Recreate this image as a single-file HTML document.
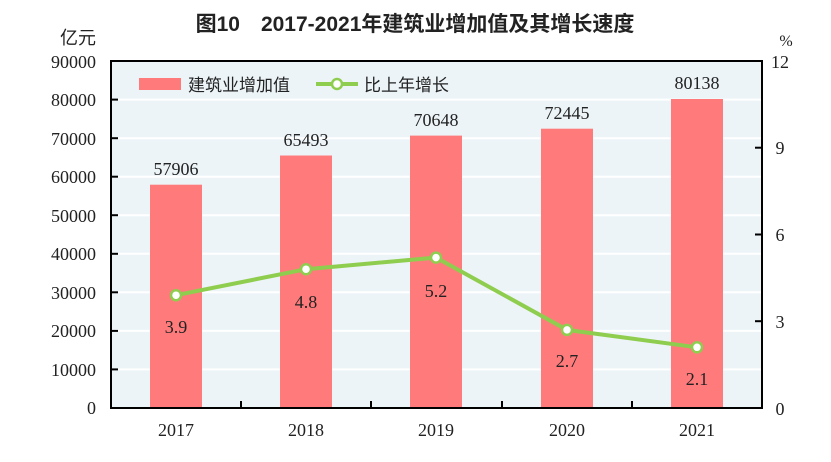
<!DOCTYPE html>
<html><head><meta charset="utf-8"><style>
body{margin:0;background:#fff;}
svg text{font-family:"Liberation Serif","Noto Serif CJK SC",serif;fill:#222;}
.cj{font-family:"Liberation Sans","Noto Sans CJK SC",sans-serif;}
</style></head><body>
<svg width="831" height="457" xmlns="http://www.w3.org/2000/svg">
<rect width="831" height="457" fill="#fff"/>
<text x="415" y="31" text-anchor="middle" font-size="21" class="cj" style="font-family:'Liberation Sans','Noto Sans CJK SC',sans-serif;font-weight:bold">图10　2017-2021年建筑业增加值及其增长速度</text>
<text x="96" y="44" text-anchor="end" font-size="18" style="font-family:'Noto Sans CJK SC',sans-serif">亿元</text>
<text x="786" y="46" text-anchor="middle" font-size="16">%</text>
<rect x="111" y="61" width="651" height="347" fill="#ecf4f8"/>
<g stroke="#fff" stroke-width="2">
<line x1="111" x2="762" y1="99.6" y2="99.6"/><line x1="111" x2="762" y1="138.2" y2="138.2"/><line x1="111" x2="762" y1="176.7" y2="176.7"/><line x1="111" x2="762" y1="215.2" y2="215.2"/><line x1="111" x2="762" y1="253.8" y2="253.8"/><line x1="111" x2="762" y1="292.3" y2="292.3"/><line x1="111" x2="762" y1="330.9" y2="330.9"/><line x1="111" x2="762" y1="369.4" y2="369.4"/>
</g>
<g fill="#ff7b7b">
<rect x="150" y="184.7" width="52" height="223.3"/>
<rect x="280" y="155.5" width="52" height="252.5"/>
<rect x="410" y="135.6" width="52" height="272.4"/>
<rect x="541" y="128.7" width="52" height="279.3"/>
<rect x="671" y="99" width="52" height="309"/>
</g>
<rect x="111" y="61" width="651" height="347" fill="none" stroke="#000" stroke-width="2"/>
<g stroke="#000" stroke-width="2">
<line x1="111" x2="118" y1="99.6" y2="99.6"/><line x1="111" x2="118" y1="138.2" y2="138.2"/><line x1="111" x2="118" y1="176.7" y2="176.7"/><line x1="111" x2="118" y1="215.2" y2="215.2"/><line x1="111" x2="118" y1="253.8" y2="253.8"/><line x1="111" x2="118" y1="292.3" y2="292.3"/><line x1="111" x2="118" y1="330.9" y2="330.9"/><line x1="111" x2="118" y1="369.4" y2="369.4"/>
<line x1="762" x2="755" y1="321.2" y2="321.2"/><line x1="762" x2="755" y1="234.5" y2="234.5"/><line x1="762" x2="755" y1="147.7" y2="147.7"/>
<line x1="241" x2="241" y1="408" y2="401"/><line x1="371" x2="371" y1="408" y2="401"/><line x1="502" x2="502" y1="408" y2="401"/><line x1="632" x2="632" y1="408" y2="401"/>
</g>
<g font-size="18" text-anchor="end">
<text x="96" y="68">90000</text><text x="96" y="106">80000</text><text x="96" y="145">70000</text><text x="96" y="183">60000</text><text x="96" y="222">50000</text><text x="96" y="260">40000</text><text x="96" y="299">30000</text><text x="96" y="337">20000</text><text x="96" y="376">10000</text><text x="96" y="414">0</text>
</g>
<g font-size="18" text-anchor="middle">
<text x="780" y="68">12</text><text x="780" y="154">9</text><text x="780" y="241">6</text><text x="780" y="328">3</text><text x="780" y="415">0</text>
<text x="176" y="436">2017</text><text x="306" y="436">2018</text><text x="436" y="436">2019</text><text x="567" y="436">2020</text><text x="697" y="436">2021</text>
<text x="176" y="175">57906</text><text x="306" y="146">65493</text><text x="436" y="126">70648</text><text x="567" y="119">72445</text><text x="697" y="89">80138</text>
<text x="176" y="333">3.9</text><text x="306" y="308">4.8</text><text x="436" y="297">5.2</text><text x="567" y="367">2.7</text><text x="697" y="385">2.1</text>
</g>
<polyline points="176,295.2 306,269.2 436,257.6 567,329.9 697,347.3" fill="none" stroke="#8fcd4f" stroke-width="4"/>
<g fill="#fff" stroke="#8fcd4f" stroke-width="2.5">
<circle cx="176" cy="295.2" r="5"/><circle cx="306" cy="269.2" r="5"/><circle cx="436" cy="257.6" r="5"/><circle cx="567" cy="329.9" r="5"/><circle cx="697" cy="347.3" r="5"/>
</g>
<rect x="139" y="78" width="42" height="12" fill="#ff7b7b"/>
<text x="188" y="91" font-size="17" style="font-family:'Noto Sans CJK SC',sans-serif">建筑业增加值</text>
<line x1="316" x2="358" y1="84" y2="84" stroke="#8fcd4f" stroke-width="4"/>
<circle cx="337" cy="84" r="5" fill="#fff" stroke="#8fcd4f" stroke-width="2.5"/>
<text x="364" y="91" font-size="17" style="font-family:'Noto Sans CJK SC',sans-serif">比上年增长</text>
</svg>
</body></html>
